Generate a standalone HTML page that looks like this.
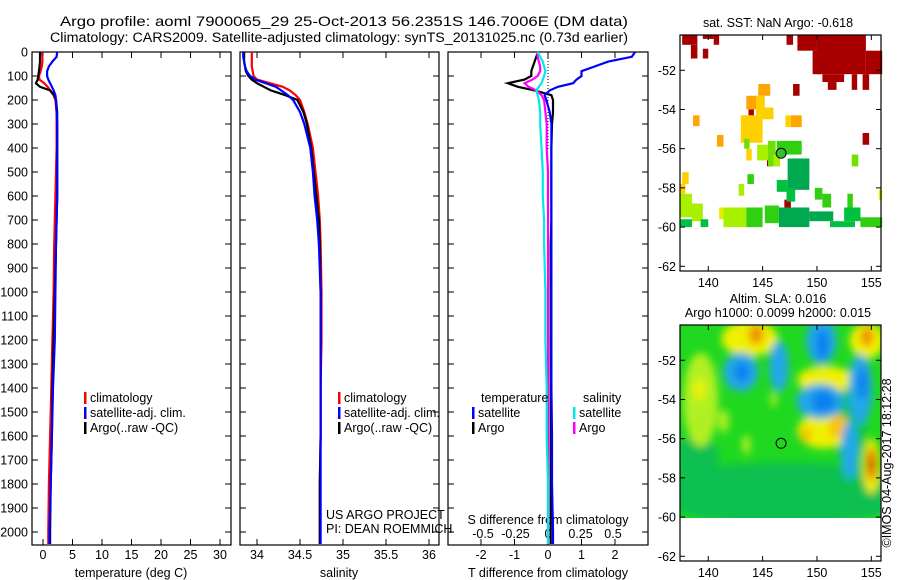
<!DOCTYPE html>
<html><head><meta charset="utf-8"><style>
html,body{margin:0;padding:0;background:#fff;}
svg{display:block;font-family:"Liberation Sans",sans-serif;}
text{fill:#000;}
</style></head><body>
<svg id="fig" width="900" height="580" viewBox="0 0 900 580" xmlns="http://www.w3.org/2000/svg">
<defs><filter id="blur" x="-20%" y="-20%" width="140%" height="140%"><feGaussianBlur stdDeviation="4"/></filter>
<clipPath id="slaclip"><rect x="680" y="325" width="201" height="193"/></clipPath></defs>
<text x="60" y="26" font-size="14" textLength="568" lengthAdjust="spacingAndGlyphs">Argo profile: aoml 7900065_29 25-Oct-2013 56.2351S 146.7006E (DM data)</text>
<text x="50" y="42" font-size="13.5" textLength="578" lengthAdjust="spacingAndGlyphs">Climatology: CARS2009. Satellite-adjusted climatology: synTS_20131025.nc (0.73d earlier)</text>
<g id="layer"></g>
</svg>
<script>
// ---------- profile data ----------
const depthT = [0,20,40,60,80,100,115,130,145,160,180,200,250,300,400,500,600,700,800,1000,1200,1400,1600,1800,2000,2050];
const tempClim = [-0.2,-0.1,-0.1,-0.2,-0.4,-0.7,-0.6,0.2,0.8,1.2,1.8,2.1,2.3,2.3,2.3,2.2,2.1,2.0,1.9,1.8,1.6,1.4,1.2,1.0,0.9,0.9];
const tempSat = [2.4,2.3,1.6,1.0,0.7,0.7,0.9,1.2,1.5,1.8,2.1,2.2,2.3,2.4,2.4,2.4,2.4,2.3,2.2,2.1,2.0,1.7,1.5,1.3,1.1,1.1];
const tempArgo = [-0.5,-0.5,-0.5,-0.6,-0.7,-0.8,-0.9,-1.2,-0.5,1.2,1.9,2.2,2.4,2.4,2.4,2.4,2.4,2.3,2.2,2.0,1.8,1.6,1.5,1.3,1.2,1.2];
const salClim = [33.94,33.94,33.94,33.94,33.95,33.96,34.0,34.15,34.30,34.38,34.45,34.5,34.55,34.59,34.65,34.68,34.71,34.73,34.74,34.75,34.75,34.74,34.74,34.73,34.73,34.73];
const salSat = [33.84,33.84,33.85,33.86,33.88,33.92,33.98,34.1,34.22,34.28,34.36,34.42,34.5,34.55,34.62,34.65,34.67,34.70,34.72,34.74,34.74,34.74,34.74,34.74,34.74,34.74];
const salArgo = [33.85,33.85,33.85,33.86,33.87,33.9,33.94,34.0,34.08,34.16,34.33,34.47,34.54,34.58,34.63,34.66,34.69,34.72,34.73,34.74,34.74,34.74,34.74,34.73,34.73,34.73];
const dTsat = [2.6,2.5,1.8,1.4,1.0,1.0,0.85,0.75,0.3,0.05,-0.1,-0.05,0.05,0.1,0.1,0.1,0.1,0.1,0.1,0.1,0.1,0.1,0.12,0.12,0.15,0.15];
const dTargo = [-0.3,-0.35,-0.4,-0.45,-0.5,-0.5,-0.7,-1.2,-0.9,-0.4,0.1,0.15,0.15,0.12,0.1,0.1,0.1,0.1,0.08,0.08,0.08,0.08,0.08,0.08,0.08,0.08];
const dSsat = [-0.08,-0.06,-0.04,-0.03,-0.02,-0.03,-0.04,-0.05,-0.07,-0.09,-0.08,-0.07,-0.06,-0.06,-0.05,-0.04,-0.04,-0.03,-0.03,-0.02,-0.02,-0.01,-0.01,0,0,0];
const dSargo = [-0.08,-0.08,-0.07,-0.06,-0.06,-0.08,-0.12,-0.18,-0.15,-0.09,-0.05,-0.03,-0.02,-0.01,-0.01,0,0,0,0,0,0,0,0,0,0,0];
const depthTicks = [0,100,200,300,400,500,600,700,800,900,1000,1100,1200,1300,1400,1500,1600,1700,1800,1900,2000];
const tempTicks = [0,5,10,15,20,25,30];
const salTicks = [34,34.5,35,35.5,36];
const dTTicks = [-2,-1,0,1,2];
const dSTicks = [-0.5,-0.25,0,0.25,0.5];
// ---------- map data ----------
const lonTicks = [140,145,150,155];
const latTicks = [-52,-54,-56,-58,-60,-62];
// SST patches: [lon0, lon1, latTop, latBottom, value]
const sstPatches = [
[150,154.5,-50.2,-52.2,3],[148.2,150,-50.2,-51.0,3],[154.5,156,-51.0,-52.2,3],[150.5,152.5,-52.2,-52.6,3],[151,151.8,-52.6,-53.0,3],[153.2,153.7,-52.2,-53.0,3],[154.2,154.8,-52.2,-53.0,3],[149.6,150.3,-51,-52.2,3],
[137.6,139,-50.2,-50.7,3],[138.4,139,-50.7,-51.4,3],[139.5,140,-50.9,-51.4,3],[140.5,141,-50.2,-50.7,3],[139.5,140.5,-50.2,-50.4,3],
[147.8,148.4,-52.7,-53.3,3],[147.2,147.8,-50.2,-50.7,3],[154.2,154.8,-55.2,-55.8,3],[143.7,144.2,-53.8,-54.3,3],[147,147.6,-58.6,-59.3,3],[145.4,145.9,-56.5,-56.9,3],
[144.6,145.7,-52.7,-53.3,2],[138.6,139.2,-54.3,-54.85,2],[140.8,141.4,-55.3,-55.9,2],[147.6,148.6,-54.3,-54.9,2],[143.5,144.6,-53.3,-54.0,2],
[143.0,145.0,-54.3,-55.7,1.5],[145.0,146.0,-53.9,-54.5,1.5],[144.4,145.2,-53.3,-54.3,1.5],[147.1,147.6,-54.3,-54.9,1.5],[143.5,144.0,-56.0,-56.6,1.5],[137.6,138.2,-57.2,-57.8,1.5],[137.4,137.9,-57.8,-58.3,1.5],
[143.3,143.8,-55.5,-56.0,0.5],[144.5,145.5,-55.8,-56.6,0.7],[145.5,146.2,-55.6,-56.9,0.6],[146.3,148.6,-55.6,-56.3,0.4],[146,146.6,-56.3,-56.9,0.8],[143.6,144.2,-57.3,-57.8,0.4],[142.8,143.3,-57.8,-58.4,0.7],[153.2,153.8,-56.3,-56.9,0.5],[137.4,138.5,-58.3,-59.5,0.8],[138.5,139.5,-58.8,-59.7,0.7],[141,141.6,-59,-59.6,1],
[147.3,149.3,-56.5,-58.1,-0.3],[146.3,147.3,-57.6,-58.2,0.1],[147.2,148,-58.0,-58.7,0.1],[149.8,150.5,-58,-58.6,0.3],[150.5,151.3,-58.3,-59,0.3],[152.8,153.3,-58.3,-59,0.4],[155.7,156,-58.1,-58.6,1],
[137.4,138.5,-59.6,-60.0,0.1],[139.3,140,-59.6,-60.0,0.1],[141.4,143.5,-59.0,-60.0,0.9],[143.5,145,-59.0,-60.0,0.4],[145.2,146.5,-58.9,-59.8,0.3],[146.5,149.3,-59.0,-60.0,-0.4],[149.3,151.5,-59.2,-59.7,-0.4],[151.2,153.5,-59.7,-60.0,-0.2],[152.5,154,-59.0,-59.7,0.1],[154,156,-59.5,-60.0,0.2]
];
const sstLevels = [-0.5,-0.2,0.2,0.5,0.7,1,1.5,2,3];
const sstColors = ["#00a850","#00c040","#30d010","#70e000","#a8f000","#e0f000","#ffd000","#ffa500","#a80000"];
// SLA blobs: [lon, lat, rxDeg, ryDeg, value]
const slaBlobs = [
[147,-58.8,12,1.6,-0.05],[139,-57,2,1.2,-0.05],[153,-55,1.5,2.5,-0.05],
[143.8,-50.9,2.6,0.9,0.12],[144.4,-50.7,0.7,0.5,0.22],[154.6,-51,1.6,0.9,0.12],[154.6,-50.8,0.6,0.5,0.2],
[139.3,-54,1.6,2.4,0.07],[139.2,-53.5,0.5,0.6,0.12],[150.8,-53.0,2.6,0.7,0.1],[150.6,-55.6,2.4,0.9,0.1],[152,-55.4,0.9,0.6,0.18],[149,-55.8,0.5,0.4,0.16],
[150.4,-51,1.4,1.2,-0.12],[150.5,-51.2,0.6,0.8,-0.2],[143,-52.6,1.6,1.0,-0.12],[143.1,-52.6,0.7,0.5,-0.2],[146.5,-52.3,0.9,1.3,-0.12],
[150.3,-54.1,2.2,0.9,-0.12],[150.6,-54.1,1.1,0.55,-0.22],[154,-53.5,1.1,1.8,-0.12],[154.2,-53.2,0.5,0.8,-0.18],[153,-56.6,0.8,1.5,-0.12],
[155,-57.4,0.8,1.4,0.12],[155,-57.3,0.5,0.9,0.22],[155,-57.3,0.3,0.5,0.3],[146,-54,0.3,0.4,0.08],[143.5,-56.3,0.4,0.5,0.08],[141.4,-55.1,0.5,0.6,0.06]
];
const slaLevels = [-0.2,-0.15,-0.1,-0.06,0,0.06,0.1,0.15,0.2,0.3];
const slaColors = ["#1080f0","#20a8e8","#20b8a0","#10c050","#20d820","#b0f020","#f0f000","#f8c000","#f09000","#c05000"];
const argoPos = [146.7006,-56.2351];

// ---------- drawing ----------
const NS="http://www.w3.org/2000/svg";
const layer=document.getElementById('layer');
function mk(tag,attrs,parent){const e=document.createElementNS(NS,tag);for(const k in attrs)e.setAttribute(k,attrs[k]);(parent||layer).appendChild(e);return e;}
const PT=52, PB=545;
const yD = d => PT + d*0.24;
const panels=[{x0:32,x1:231},{x0:240,x1:439},{x0:448,x1:648}];
const xT = t => 43 + t*5.9;
const xS = s => 257 + (s-34)*86;
const xDT = v => 548 + v*33.5;
const xDS = v => 548 + v*130;

function line(xs,f,color,name,w){
  const pts=depthT.map((d,i)=>f(xs[i]).toFixed(1)+','+yD(d).toFixed(1)).join(' ');
  const p=mk('polyline',{points:pts,fill:'none',stroke:color,'stroke-width':w||2.2});
  
  
}
function txt(x,y,s,opts){const t=mk('text',Object.assign({x:x,y:y,'font-size':12.5},opts||{}));t.textContent=s;return t;}

panels.forEach((p,pi)=>{
  const r=mk('rect',{x:p.x0,y:PT,width:p.x1-p.x0,height:PB-PT,fill:'#fff',stroke:'#000','stroke-width':1.2});
  
  
  depthTicks.forEach(d=>{
    mk('line',{x1:p.x0,x2:p.x0+6,y1:yD(d),y2:yD(d),stroke:'#000'});
    mk('line',{x1:p.x1,x2:p.x1-6,y1:yD(d),y2:yD(d),stroke:'#000'});
  });
});
depthTicks.forEach(d=>{const t=txt(28,yD(d)+4.5,String(d),{'text-anchor':'end'});
  
  });
function xticks(ticks,f,y0,y1,lab){ticks.forEach(v=>{const x=f(v);
  mk('line',{x1:x,x2:x,y1:PB,y2:PB-6,stroke:'#000'});mk('line',{x1:x,x2:x,y1:PT,y2:PT+6,stroke:'#000'});
  if(lab){const t=txt(x,y1,String(v),{'text-anchor':'middle'});
  
  }});}
xticks(tempTicks,xT,0,559,true);
xticks(salTicks,xS,0,559,true);
xticks(dTTicks,xDT,0,559,true);
dSTicks.forEach(v=>{const t=txt(xDS(v),538,String(v),{'text-anchor':'middle'});
  
  });
[['temperature (deg C)',131],['salinity',339],['T difference from climatology',548]].forEach(a=>{
  const t=txt(a[1],577,a[0],{'text-anchor':'middle'});
  
  });
const st=txt(548,524,'S difference from climatology',{'text-anchor':'middle'});


mk('line',{x1:548,x2:548,y1:PT,y2:150,stroke:'#000','stroke-dasharray':'1,2'});

line(tempClim,xT,'#ff0000','temp-climatology-line');
line(tempArgo,xT,'#000','temp-argo-line');
line(tempSat,xT,'#0000ff','temp-satellite-line');
line(salClim,xS,'#ff0000','sal-climatology-line');
line(salArgo,xS,'#000','sal-argo-line');
line(salSat,xS,'#0000ff','sal-satellite-line');
line(dTargo,xDT,'#000','tdiff-argo-line');
line(dTsat,xDT,'#0000ff','tdiff-satellite-line');
line(dSargo,xDS,'#ff00ff','sdiff-argo-line');
line(dSsat,xDS,'#00e8e8','sdiff-satellite-line');

function legend(x,y,items){items.forEach((it,i)=>{
  mk('rect',{x:x,y:y+i*15-10,width:2.5,height:12,fill:it[1]});
  const t=txt(x+6,y+i*15,it[0]);
  
  });}
const legItems=[['climatology','#ff0000'],['satellite-adj. clim.','#0000ff'],['Argo(..raw -QC)','#000']];
legend(84,402,legItems);legend(338,402,legItems);
txt(481,402,'temperature');txt(583,402,'salinity');
legend(472,417,[['satellite','#0000ff'],['Argo','#000']]);
legend(573,417,[['satellite','#00e8e8'],['Argo','#ff00ff']]);
txt(326,519,'US ARGO PROJECT');txt(326,533,'PI: DEAN ROEMMICH');

// maps
const MX0=680,MX1=881;
const mX = lon => MX0 + (lon-137.4)*10.87;
function mapFrame(top,bottom,latTop,name){
  const mY = lat => top + (latTop-lat)*19.6;
  const r=mk('rect',{x:MX0,y:top,width:MX1-MX0,height:bottom-top,fill:'none',stroke:'#000','stroke-width':1.2});
  
  
  lonTicks.forEach(l=>{const x=mX(l);mk('line',{x1:x,x2:x,y1:top,y2:top+5,stroke:'#000'});mk('line',{x1:x,x2:x,y1:bottom,y2:bottom-5,stroke:'#000'});
    txt(x,bottom+16,String(l),{'text-anchor':'middle'});});
  latTicks.forEach(l=>{const y=mY(l);mk('line',{x1:MX0,x2:MX0+5,y1:y,y2:y,stroke:'#000'});mk('line',{x1:MX1,x2:MX1-5,y1:y,y2:y,stroke:'#000'});
    txt(MX0-4,y+4.5,String(l),{'text-anchor':'end'});});
  return mY;
}
function colorFor(v,levels,colors){let c=colors[0];levels.forEach((L,i)=>{if(v>=L)c=colors[i];});return c;}
// SST map
const sY = lat => 35 + (-50.2-lat)*19.6;
sstPatches.forEach(p=>{
  const r=mk('rect',{x:mX(p[0]),y:sY(p[2]),width:mX(p[1])-mX(p[0]),height:sY(p[3])-sY(p[2]),fill:colorFor(p[4],sstLevels,sstColors)});
  
  
});
mapFrame(35,271,-50.2,'sst-map');
mk('circle',{cx:mX(argoPos[0]),cy:sY(argoPos[1]),r:5,fill:'#30c030',stroke:'#000'});
txt(778,27,'sat. SST: NaN Argo: -0.618',{'text-anchor':'middle'});
// SLA map
const aY = lat => 325 + (-50.2-lat)*19.6;
const g=mk('g',{'clip-path':'url(#slaclip)'});
mk('rect',{x:680,y:325,width:201,height:193,fill:'#20d820'},g);
const gb=mk('g',{filter:'url(#blur)'},g);
slaBlobs.forEach(b=>{
  const e=mk('ellipse',{cx:mX(b[0]),cy:aY(b[1]),rx:b[2]*10.87,ry:b[3]*19.6,fill:colorFor(b[4],slaLevels,slaColors)},gb);
  
  
});
mapFrame(325,561,-50.2,'sla-map');
mk('circle',{cx:mX(argoPos[0]),cy:aY(argoPos[1]),r:5,fill:'none',stroke:'#000'});
txt(778,303,'Altim. SLA: 0.016',{'text-anchor':'middle'});
txt(778,317,'Argo h1000: 0.0099 h2000: 0.015',{'text-anchor':'middle'});
const im=txt(0,0,'©IMOS 04-Aug-2017 18:12:28',{'text-anchor':'middle',transform:'translate(891,463) rotate(-90)'});


</script>
</body></html>
